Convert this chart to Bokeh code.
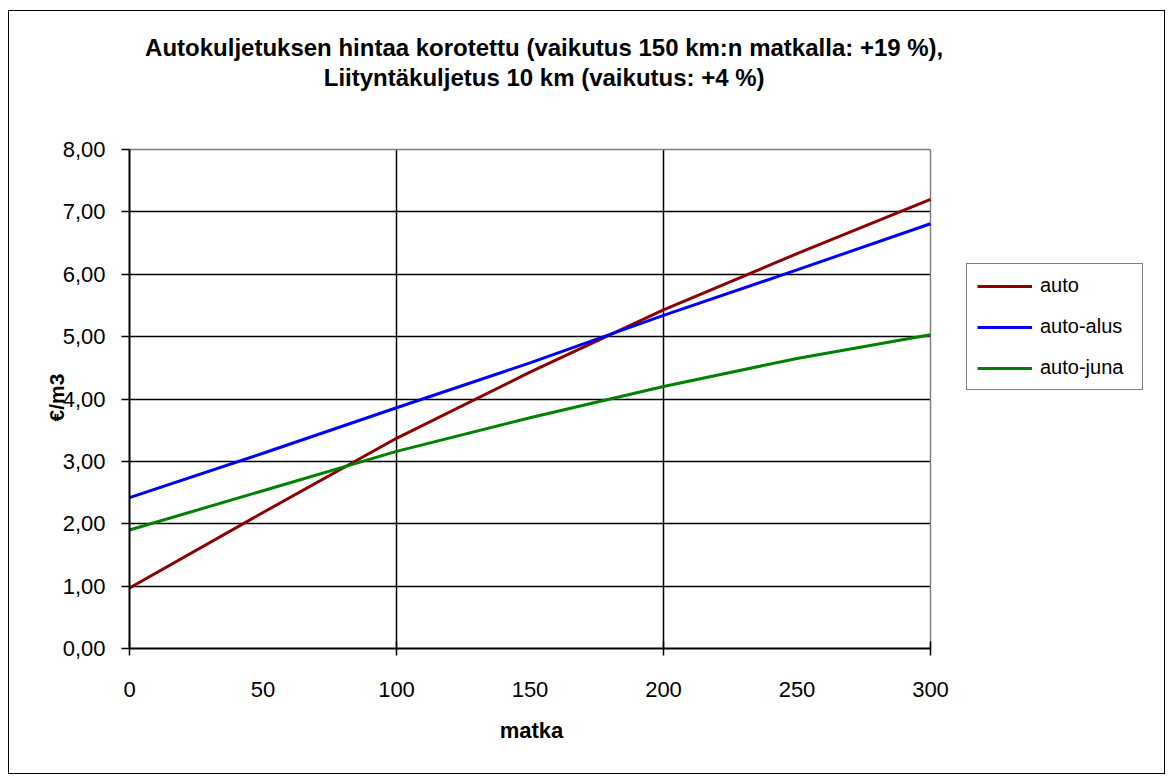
import math
from bokeh.plotting import figure
from bokeh.models import Range1d, FixedTicker, Legend, LegendItem, Label, Grid
from bokeh.embed import file_html
from bokeh.resources import INLINE

# Distance (km) and cost per cubic metre for each transport chain
matka = [0, 50, 100, 150, 200, 250, 300]
auto = [0.97, 2.18, 3.37, 4.43, 5.43, 6.33, 7.20]
auto_alus = [2.42, 3.13, 3.86, 4.58, 5.34, 6.07, 6.81]
auto_juna = [1.90, 2.53, 3.16, 3.70, 4.20, 4.65, 5.03]

series_names = ["auto", "auto-alus", "auto-juna"]
series_colors = ["#8B0000", "#0000FF", "#008000"]

x_ticks = [0, 50, 100, 150, 200, 250, 300]
x_marks = [0, 100, 200, 300]
y_ticks = [0, 1, 2, 3, 4, 5, 6, 7, 8]
y_tick_labels = ["0,00", "1,00", "2,00", "3,00", "4,00", "5,00", "6,00", "7,00", "8,00"]

title_lines = [
    "Autokuljetuksen hintaa korotettu  (vaikutus 150 km:n matkalla: +19 %),",
    "Liityntäkuljetus 10 km (vaikutus:  +4 %)",
]
x_label = "matka"
y_label = "€/m3"

FONT = "Liberation Sans"

# canvas geometry: the plotting area occupies the whole canvas; the data
# region (0..300 km, 0..8 €/m3) sits inside it with room for the title,
# axis labels and the legend around it
W, H = 1157, 764
LEFT, RIGHT = 120, 921        # canvas px of x = 0 and x = 300
BOTTOM, TOP = 637, 138        # canvas px of y = 0 and y = 8
kx = (RIGHT - LEFT) / 300.0
ky = (BOTTOM - TOP) / 8.0

p = figure(width=W, height=H, output_backend="svg", toolbar_location=None,
           title=None,
           x_range=Range1d(-LEFT / kx, (W - LEFT) / kx),
           y_range=Range1d(-(H - BOTTOM) / ky, BOTTOM / ky),
           min_border=0)
p.margin = (10, 0, 0, 8)
p.styles = {"border": "1.5px solid black"}
p.background_fill_color = "white"
p.border_fill_color = "white"
p.outline_line_color = None

# x axis: labels every 50 km, crossing tick marks every 100 km
xa = p.xaxis[0]
xa.fixed_location = 0
xa.bounds = (0, 300)
xa.ticker = FixedTicker(ticks=x_ticks, minor_ticks=x_marks)
xa.major_tick_line_color = None
xa.major_tick_in = 0
xa.major_tick_out = 0
xa.minor_tick_in = 7
xa.minor_tick_out = 7
xa.minor_tick_line_color = "black"
xa.minor_tick_line_width = 1.5
xa.axis_line_color = "black"
xa.axis_line_width = 2
xa.major_label_text_font = FONT
xa.major_label_text_font_size = "22px"
xa.major_label_text_color = "black"
xa.major_label_standoff = 26

# y axis
ya = p.yaxis[0]
ya.fixed_location = 0
ya.bounds = (0, 8)
ya.ticker = FixedTicker(ticks=y_ticks)
ya.major_label_overrides = {float(t): s for t, s in zip(y_ticks, y_tick_labels)}
ya.minor_tick_line_color = None
ya.major_tick_in = 0
ya.major_tick_out = 8
ya.major_tick_line_color = "black"
ya.major_tick_line_width = 1.5
ya.axis_line_color = "black"
ya.axis_line_width = 2
ya.major_label_text_font = FONT
ya.major_label_text_font_size = "22px"
ya.major_label_text_color = "black"
ya.major_label_standoff = 16

# grid inside the data region; its top and right edges are grey
p.xgrid[0].ticker = FixedTicker(ticks=[100, 200])
p.xgrid[0].cross_bounds = (0, 8)
p.xgrid[0].grid_line_color = "black"
p.xgrid[0].grid_line_width = 1.5
p.ygrid[0].ticker = FixedTicker(ticks=[1, 2, 3, 4, 5, 6, 7])
p.ygrid[0].cross_bounds = (0, 300)
p.ygrid[0].grid_line_color = "black"
p.ygrid[0].grid_line_width = 1.5
p.add_layout(Grid(dimension=0, ticker=FixedTicker(ticks=[300]), cross_bounds=(0, 8),
                  grid_line_color="#808080", grid_line_width=1.5), "center")
p.add_layout(Grid(dimension=1, ticker=FixedTicker(ticks=[8]), cross_bounds=(0, 300),
                  grid_line_color="#808080", grid_line_width=1.5), "center")

# series
items = []
for name, ys, col in zip(series_names, [auto, auto_alus, auto_juna], series_colors):
    r = p.line(matka, ys, line_color=col, line_width=3)
    items.append(LegendItem(label=name, renderers=[r]))

legend = Legend(items=items, location=(957, 385))
legend.label_text_font = FONT
legend.label_text_font_size = "20px"
legend.label_text_color = "black"
legend.glyph_width = 55
legend.glyph_height = 20
legend.label_height = 20
legend.label_width = 92
legend.spacing = 18
legend.padding = 10
legend.margin = 0
legend.label_standoff = 8
legend.border_line_color = "black"
legend.border_line_width = 1.5
legend.background_fill_color = "white"
legend.background_fill_alpha = 1
p.add_layout(legend, "center")

# two-line chart title
for txt, y in zip(title_lines, [H - 36, H - 66]):
    p.add_layout(Label(x=538, y=y, x_units="screen", y_units="screen",
                       text=txt, text_align="center", text_baseline="middle",
                       text_font=FONT, text_font_size="24px",
                       text_font_style="bold", text_color="black"))

# axis titles
p.add_layout(Label(x=522, y=H - 719, x_units="screen", y_units="screen",
                   text=x_label, text_align="center", text_baseline="middle",
                   text_font=FONT, text_font_size="22px",
                   text_font_style="bold", text_color="black"))
p.add_layout(Label(x=47, y=H - 386, x_units="screen", y_units="screen",
                   text=y_label, angle=math.pi / 2, text_align="center",
                   text_baseline="middle", text_font=FONT,
                   text_font_size="21px", text_font_style="bold",
                   text_color="black"))

open("out.html", "w").write(file_html(p, INLINE))
